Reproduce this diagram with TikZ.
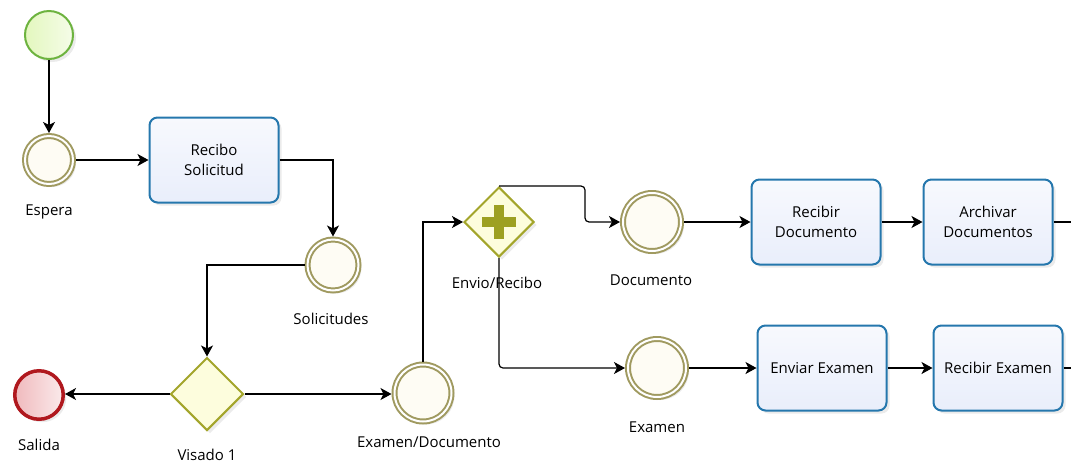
\documentclass[tikz,border=0pt]{standalone}
\usepackage{fontspec}
\setmainfont{Open Sans}
\usetikzlibrary{shapes.geometric,arrows.meta,shadows}

\definecolor{startline}{HTML}{6DB33F}
\definecolor{startfill}{HTML}{E3F7BE}
\definecolor{midline}{HTML}{A09A60}
\definecolor{midfill}{HTML}{FEFCF4}
\definecolor{endline}{HTML}{B0181E}
\definecolor{endfill}{HTML}{F0BABD}
\definecolor{taskline}{HTML}{2577AD}
\definecolor{taskfill}{HTML}{E9EEFB}
\definecolor{gateline}{HTML}{A3A52B}
\definecolor{gatefill}{HTML}{FDFDDD}
\definecolor{plusfill}{HTML}{9DA021}

\begin{document}
\begin{tikzpicture}[x=1pt,y=-1pt,
	font=\fontsize{15}{20}\selectfont,
	shade/.style={drop shadow={opacity=0.16,shadow xshift=3pt,shadow yshift=-3pt}},
	startev/.style={circle,inner sep=0,minimum size=48,line width=2pt,draw=startline,left color=startfill,right color=startfill!35!white,shade},
	midev/.style={circle,inner sep=0,outer sep=3pt,line width=2pt,draw=midline,double=white,double distance=2pt,fill=midfill,shade},
	endev/.style={circle,inner sep=0,minimum size=48.5,line width=3.5pt,draw=endline,left color=endfill,right color=endfill!30!white,shade},
	task/.style={rectangle,rounded corners=8pt,inner sep=0,minimum width=129,minimum height=85,line width=2pt,draw=taskline,top color=taskfill!35!white,bottom color=taskfill,align=center,shade},
	gate/.style={diamond,aspect=1,inner sep=0,line width=2pt,draw=gateline,fill=gatefill,shade},
	lbl/.style={anchor=base,inner sep=0},
	flow/.style={draw=black,line width=1.2pt,-{Stealth[length=11pt,width=12pt,inset=3pt]}},
	line/.style={draw=black,line width=1.2pt}]
	\useasboundingbox (0,0) rectangle (1071,464);
	
	\node[startev] (start) at (49,35) {};
	\node[midev,minimum size=48] (espera) at (49,160) {};
	\node[lbl] (esperaLbl) at (49,215) {Espera};
	\node[task] (recibo) at (214,160) {Recibo\\Solicitud};
	
	\node[midev,minimum size=51] (solic) at (333,265) {};
	\node[lbl] (solicLbl) at (331,324) {Solicitudes};
	
	\node[gate,minimum size=73] (visado) at (207,394) {};
	\node[lbl] (visadoLbl) at (207,460) {Visado 1};
	\node[endev] (salida) at (39,395) {};
	\node[lbl] (salidaLbl) at (39,450) {Salida};
	
	\node[midev,minimum size=57] (exdoc) at (423,393) {};
	\node[lbl] (exdocLbl) at (429,447) {Examen/Documento};
	
	\node[gate,minimum size=70] (envio) at (499,222) {};
	\fill[plusfill] ([xshift=-17pt,yshift=-5pt]envio.center) rectangle ([xshift=17pt,yshift=5pt]envio.center);
	\fill[plusfill] ([xshift=-5pt,yshift=-17pt]envio.center) rectangle ([xshift=5pt,yshift=17pt]envio.center);
	\node[lbl] (envioLbl) at (497,288) {Envio/Recibo};
	
	\node[midev,minimum size=58] (doc) at (652,222) {};
	\node[lbl] (docLbl) at (651,285) {Documento};
	\node[task] (recdoc) at (816,222) {Recibir\\Documento};
	\node[task] (archivar) at (988,222) {Archivar\\Documentos};
	
	\node[midev,minimum size=58] (examen) at (657,368) {};
	\node[lbl] (examenLbl) at (657,432) {Examen};
	\node[task] (enviar) at (822,368) {Enviar Examen};
	\node[task] (recex) at (998,368) {Recibir Examen};
	
	\coordinate (docbend) at (585,205);
	\coordinate (docout) at (1071,222);
	\coordinate (exout) at (1071,368);
	
	\draw[flow] (start) -- (espera);
	\draw[flow] (espera) -- (recibo);
	\draw[flow] (recibo.east) -| (solic.north);
	\draw[flow] (solic.west) -| (visado.north);
	\draw[flow] (visado.west) -- (visado.west -| salida.east);
	\draw[flow] (visado.east) -- (visado.east -| exdoc.west);
	\draw[flow] (exdoc.north) |- (envio.west);
	\draw[flow,rounded corners=4pt] (envio.north) -| (docbend) |- (doc.west);	%Documento
	\draw[flow,rounded corners=4pt] (envio.south) |- (examen.west);	%Examen
	
	\draw[flow] (doc) -- (recdoc);
	\draw[flow] (recdoc) -- (archivar);
	\draw[line] (archivar.east) -- (docout);
	
	\draw[flow] (examen) -- (enviar);
	\draw[flow] (enviar) -- (recex);
	\draw[line] (recex.east) -- (exout);
\end{tikzpicture}
\end{document}
